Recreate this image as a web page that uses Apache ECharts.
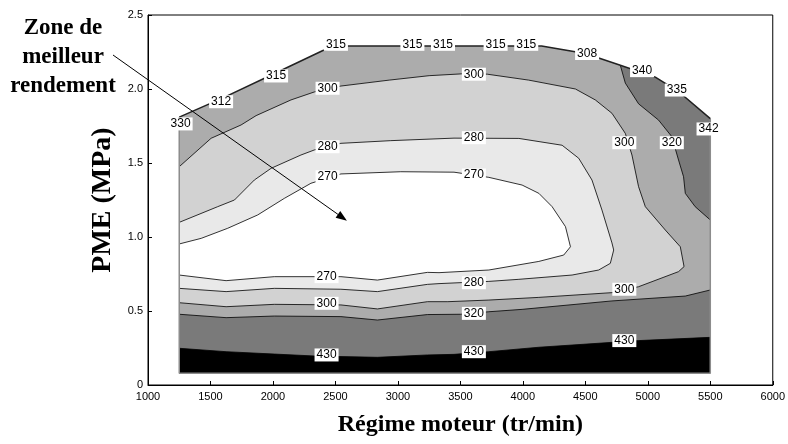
<!DOCTYPE html>
<html>
<head>
<meta charset="utf-8">
<script src="https://cdn.jsdelivr.net/npm/echarts@6/dist/echarts.min.js"></script>
<style>
  html, body { margin: 0; padding: 0; background: #fff; }
  #chart { width: 788px; height: 444px; }
</style>
</head>
<body>
<div id="chart"></div>
<script>
// carte de consommation : [regime tr/min, PME MPa]
const envelopeTop = [[1250, 1.81], [1600, 1.94], [2000, 2.10], [2400, 2.26], [2550, 2.29], [4150, 2.29],
  [4500, 2.24], [4780, 2.16], [5060, 2.08], [5250, 1.98], [5500, 1.80]];
const envelopeBottom = [[5500, 0.08], [1250, 0.08]];

const iso430 = [[1250, 0.248], [1625, 0.225], [2011, 0.209], [2331, 0.196], [2836, 0.187], [3236, 0.203],
  [3449, 0.207], [3728, 0.225], [4128, 0.255], [4926, 0.300], [5500, 0.322]];

const iso320Low = [[1250, 0.478], [1625, 0.455], [2011, 0.466], [2544, 0.462], [2836, 0.439], [3236, 0.476],
  [3500, 0.478], [3728, 0.495], [3994, 0.511], [4713, 0.568], [5300, 0.601], [5500, 0.642]];
const iso320High = [[5500, 1.115], [5379, 1.205], [5300, 1.295], [5286, 1.407], [5246, 1.520], [5192, 1.678],
  [5086, 1.790], [4926, 1.900], [4820, 2.040], [4780, 2.160]];

const iso300 = [[1250, 1.475], [1505, 1.667], [1745, 1.757], [1865, 1.820], [2144, 1.926], [2331, 1.980],
  [2544, 2.020], [2930, 2.060], [3250, 2.090], [3568, 2.105], [3715, 2.100], [4047, 2.060], [4421, 2.000],
  [4580, 1.926], [4713, 1.836], [4820, 1.700], [4873, 1.554], [4926, 1.340], [4980, 1.205], [5140, 1.047],
  [5260, 0.934], [5290, 0.800], [5246, 0.766], [4926, 0.664], [4713, 0.624], [4128, 0.592], [3728, 0.574],
  [3400, 0.563], [3236, 0.563], [2836, 0.514], [2544, 0.541], [2011, 0.545], [1625, 0.529], [1250, 0.556]];

const iso280 = [[1250, 1.099], [1558, 1.205], [1692, 1.250], [1851, 1.385], [1985, 1.464], [2224, 1.554],
  [2331, 1.588], [2544, 1.633], [2943, 1.651], [3449, 1.668], [3968, 1.666], [4314, 1.620], [4447, 1.532],
  [4553, 1.385], [4633, 1.182], [4713, 0.960], [4727, 0.912], [4700, 0.822], [4607, 0.777], [4394, 0.743],
  [3968, 0.714], [3728, 0.700], [3329, 0.685], [3236, 0.680], [2836, 0.631], [2544, 0.647], [2011, 0.653],
  [1625, 0.631], [1250, 0.653]];

const iso270 = [[1250, 0.953], [1426, 0.991], [1638, 1.059], [1878, 1.149], [2091, 1.261], [2304, 1.363],
  [2544, 1.426], [3023, 1.441], [3449, 1.438], [3728, 1.403], [3994, 1.351], [4128, 1.295], [4234, 1.205],
  [4341, 1.070], [4381, 0.934], [4327, 0.878], [4128, 0.835], [3728, 0.777], [3329, 0.759], [3236, 0.761],
  [2836, 0.709], [2544, 0.732], [2011, 0.732], [1625, 0.705], [1250, 0.743]];

// etiquettes des iso-courbes [x, y, texte]
const isoLabels = [
  [1261, 1.764, '330'], [1585, 1.914, '312'], [2025, 2.088, '315'], [2504, 2.302, '315'],
  [3116, 2.302, '315'], [3361, 2.302, '315'], [3782, 2.302, '315'], [4027, 2.302, '315'],
  [4514, 2.240, '308'], [4954, 2.124, '340'], [5232, 1.993, '335'], [5486, 1.730, '342'],
  [2437, 2.005, '300'], [3608, 2.100, '300'], [2437, 1.610, '280'], [3608, 1.671, '280'],
  [2437, 1.407, '270'], [3608, 1.419, '270'], [4812, 1.637, '300'], [5192, 1.637, '320'],
  [2429, 0.732, '270'], [2429, 0.552, '300'], [2429, 0.203, '430'], [3608, 0.691, '280'],
  [3608, 0.484, '320'], [3608, 0.225, '430'], [4812, 0.647, '300'], [4812, 0.300, '430']
];

const arrowTip = [2592, 1.11];

let chart = echarts.init(document.getElementById('chart'));

// zones remplies, de la plus externe a la plus interne
let envelope = envelopeTop.concat(envelopeBottom);
let zone320 = iso320Low.concat(iso320High)
  .concat(envelopeTop.filter(p => p[0] < 4780).reverse());
let zone430 = iso430.concat(envelopeBottom);

function area(points, color) {
  return {
    type: 'custom',
    silent: true,
    z: 1,
    data: [points[0]],
    renderItem: function (params, api) {
      return {
        type: 'polygon',
        shape: {points: points.map(p => api.coord(p))},
        style: {fill: color}
      };
    }
  };
}

function iso(points, color, width) {
  return {
    type: 'line',
    data: points,
    symbol: 'none',
    silent: true,
    z: 2,
    lineStyle: {color: color || '#000', width: width || 0.8}
  };
}

let option = {
  animation: false,
  grid: {left: 148, right: 14, top: 15, bottom: 59, show: true, borderColor: '#000', borderWidth: 1},
  xAxis: {
    type: 'value', min: 1000, max: 6000, interval: 500,
    axisLine: {lineStyle: {color: '#000'}},
    axisTick: {inside: true, length: 4, lineStyle: {color: '#000'}},
    axisLabel: {color: '#000', fontSize: 11, fontFamily: 'Liberation Sans', margin: 6, formatter: v => String(v)},
    splitLine: {show: false},
    name: 'Régime moteur (tr/min)',
    nameLocation: 'middle',
    nameGap: 28,
    nameTextStyle: {color: '#000', fontSize: 24, fontWeight: 'bold', fontFamily: 'Liberation Serif'}
  },
  yAxis: {
    type: 'value', min: 0, max: 2.5, interval: 0.5,
    axisLine: {lineStyle: {color: '#000'}},
    axisTick: {inside: true, length: 4, lineStyle: {color: '#000'}},
    axisLabel: {
      color: '#000', fontSize: 11, fontFamily: 'Liberation Sans', margin: 5,
      formatter: v => v === 0 ? '0' : v.toFixed(1)
    },
    splitLine: {show: false},
    name: 'PME (MPa)',
    nameLocation: 'middle',
    nameGap: 24,
    nameTextStyle: {color: '#000', fontSize: 28, fontWeight: 'bold', fontFamily: 'Liberation Serif'}
  },
  series: [
    area(envelope, '#7a7a7a'),
    area(zone320, '#acacac'),
    area(iso300, '#d2d2d2'),
    area(iso280, '#e9e9e9'),
    area(iso270, '#ffffff'),
    area(zone430, '#000000'),
    iso(iso430), iso(iso320Low), iso(iso320High), iso(iso300), iso(iso280), iso(iso270),
    iso([envelopeTop[0]].concat(envelopeBottom.slice().reverse()).concat([envelopeTop[envelopeTop.length - 1]]), '#8c8c8c', 1.5),
    iso(envelopeTop, '#222', 1.5),
    {
      type: 'custom',
      silent: true,
      z: 3,
      data: isoLabels.map(l => [l[0], l[1]]),
      renderItem: function (params, api) {
        let p = api.coord([api.value(0), api.value(1)]);
        return {
          type: 'text',
          x: p[0], y: p[1],
          style: {
            text: isoLabels[params.dataIndex][2],
            fill: '#000',
            font: '12px "Liberation Sans"',
            align: 'center', verticalAlign: 'middle',
            backgroundColor: '#fff',
            padding: [1, 2, 0, 2]
          }
        };
      }
    }
  ]
};

chart.setOption(option);

// fleche "Zone de meilleur rendement"
let tip = chart.convertToPixel({gridIndex: 0}, arrowTip);
let start = [113, 55];
let dx = tip[0] - start[0], dy = tip[1] - start[1];
let len = Math.sqrt(dx * dx + dy * dy);
let ux = dx / len, uy = dy / len;
let hb = [tip[0] - ux * 11, tip[1] - uy * 11];
chart.setOption({
  graphic: [
    {
      type: 'text', x: 63, y: 14, z: 100,
      style: {
        text: 'Zone de\nmeilleur\nrendement',
        font: 'bold 23px "Liberation Serif"',
        fill: '#000', align: 'center', verticalAlign: 'top', lineHeight: 29
      }
    },
    {
      type: 'line', z: 100,
      shape: {x1: start[0], y1: start[1], x2: hb[0], y2: hb[1]},
      style: {stroke: '#000', lineWidth: 1}
    },
    {
      type: 'polygon', z: 100,
      shape: {points: [tip, [hb[0] - uy * 4, hb[1] + ux * 4], [hb[0] + uy * 4, hb[1] - ux * 4]]},
      style: {fill: '#000'}
    }
  ]
});
</script>
</body>
</html>
